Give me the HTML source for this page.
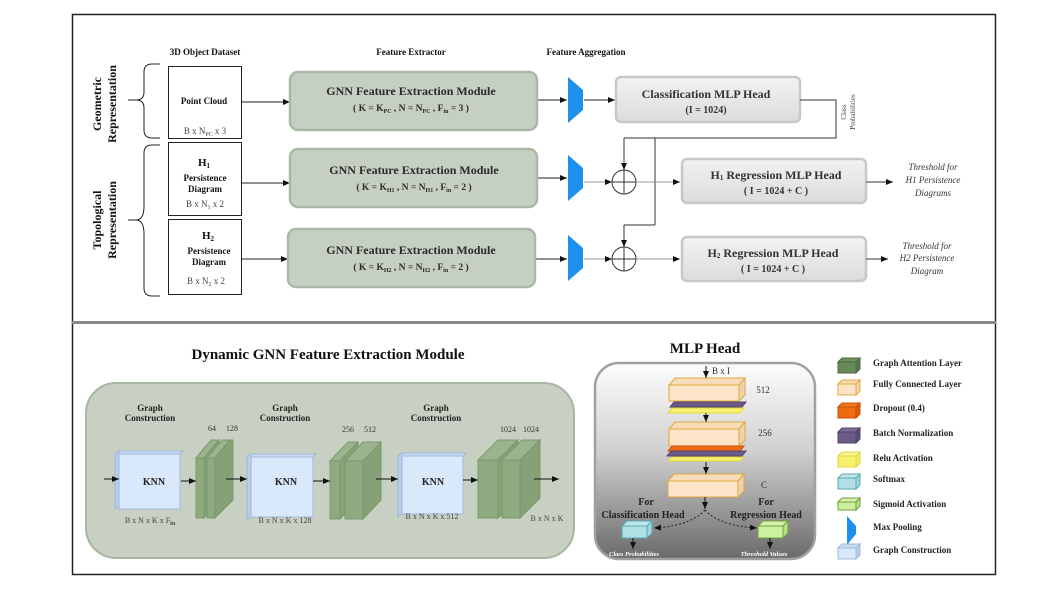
<!DOCTYPE html>
<html><head><meta charset="utf-8"><style>
html,body{margin:0;padding:0;background:#fff;}
svg{display:block;font-family:"Liberation Serif",serif;}
</style></head><body>
<svg width="1046" height="589" viewBox="0 0 1046 589" xmlns="http://www.w3.org/2000/svg">
<defs>
<marker id="ar" markerWidth="8" markerHeight="8" refX="7" refY="4" orient="auto" markerUnits="userSpaceOnUse"><path d="M0,1 L7,4 L0,7 z" fill="#111"/></marker>
<linearGradient id="gbox" x1="0" y1="0" x2="0" y2="1"><stop offset="0" stop-color="#f2f2f2"/><stop offset="1" stop-color="#dcdcdc"/></linearGradient>
<linearGradient id="mlp" x1="0" y1="0" x2="0" y2="1"><stop offset="0" stop-color="#fdfdfd"/><stop offset="0.45" stop-color="#d0d0d0"/><stop offset="1" stop-color="#6a6a6a"/></linearGradient>
</defs>
<!-- frames -->
<rect x="72.5" y="14.5" width="923" height="560" fill="none" stroke="#222" stroke-width="1.5"/>
<rect x="72" y="321" width="924" height="3" fill="#8a8a8a"/>

<!-- headers -->
<g font-weight="bold" font-size="9" text-anchor="middle" fill="#111">
<text x="205" y="55">3D Object Dataset</text>
<text x="411" y="55">Feature Extractor</text>
<text x="586" y="55">Feature Aggregation</text>
</g>
<g font-weight="bold" font-size="12" text-anchor="middle" fill="#111">
<text transform="translate(101,104) rotate(-90)">Geometric</text>
<text transform="translate(116,104) rotate(-90)">Representation</text>
<text transform="translate(101,220) rotate(-90)">Topological</text>
<text transform="translate(116,220) rotate(-90)">Representation</text>
</g>
<!-- braces -->
<g fill="none" stroke="#222" stroke-width="1">
<path d="M160,64 L152,64 Q144,64 144,72 L144,92 Q144,100 136,100 L128,100 M136,100 Q144,100 144,108 L144,130 Q144,138 152,138 L160,138"/>
<path d="M160,145 L152,145 Q144,145 144,153 L144,206 Q144,220 136,220 L128,220 M136,220 Q144,220 144,234 L144,288 Q144,296 152,296 L160,296"/>
</g>
<!-- dataset boxes -->
<g fill="#fff" stroke="#222" stroke-width="1">
<rect x="168.5" y="66.5" width="73" height="72"/>
<rect x="168.5" y="142.5" width="73" height="73"/>
<rect x="168.5" y="219.5" width="73" height="75"/>
</g>
<g font-size="9" text-anchor="middle" fill="#111">
<text x="204" y="104" font-weight="bold">Point Cloud</text>
<text x="205" y="134" fill="#444">B x N<tspan font-size="6" dy="2">PC</tspan><tspan dy="-2"> x 3</tspan></text>
<text x="204" y="166" font-weight="bold" font-size="11">H<tspan font-size="7" dy="2">1</tspan></text>
<text x="205" y="181" font-weight="bold">Persistence</text>
<text x="205" y="192" font-weight="bold">Diagram</text>
<text x="205" y="207" fill="#444">B x N<tspan font-size="6" dy="2">1</tspan><tspan dy="-2"> x 2</tspan></text>
<text x="208" y="239" font-weight="bold" font-size="11">H<tspan font-size="7" dy="2">2</tspan></text>
<text x="209" y="254" font-weight="bold">Persistence</text>
<text x="209" y="265" font-weight="bold">Diagram</text>
<text x="206" y="284" fill="#444">B x N<tspan font-size="6" dy="2">2</tspan><tspan dy="-2"> x 2</tspan></text>
</g>
<g stroke="#222" stroke-width="1" marker-end="url(#ar)">
<line x1="241" y1="102" x2="290" y2="102"/>
<line x1="241" y1="183" x2="290" y2="183"/>
<line x1="241" y1="259" x2="288" y2="259"/>
<line x1="537" y1="100" x2="567" y2="100"/>
<line x1="537" y1="178" x2="567" y2="178"/>
<line x1="535" y1="259" x2="567" y2="259"/>
<line x1="584" y1="100" x2="615" y2="100"/>
</g>
<!-- GNN boxes -->
<g fill="#c5cfc2" stroke="#aab8a6" stroke-width="2.5">
<rect x="290" y="72" width="247" height="58" rx="8"/>
<rect x="290" y="149" width="247" height="58" rx="8"/>
<rect x="288" y="229" width="247" height="58" rx="8"/>
</g>
<g font-weight="bold" text-anchor="middle" fill="#2b2b2b">
<text x="411" y="95" font-size="12">GNN Feature Extraction Module</text>
<text x="411" y="111" font-size="9.5">( K = K<tspan font-size="6" dy="2">PC</tspan><tspan dy="-2"> , N = N</tspan><tspan font-size="6" dy="2">PC</tspan><tspan dy="-2"> ,  F</tspan><tspan font-size="6" dy="2">in</tspan><tspan dy="-2"> = 3 )</tspan></text>
<text x="414" y="174" font-size="12">GNN Feature Extraction Module</text>
<text x="414" y="190" font-size="9.5">( K = K<tspan font-size="6" dy="2">H1</tspan><tspan dy="-2"> , N = N</tspan><tspan font-size="6" dy="2">H1</tspan><tspan dy="-2"> , F</tspan><tspan font-size="6" dy="2">in</tspan><tspan dy="-2"> = 2 )</tspan></text>
<text x="411" y="254" font-size="12">GNN Feature Extraction Module</text>
<text x="411" y="270" font-size="9.5">( K = K<tspan font-size="6" dy="2">H2</tspan><tspan dy="-2"> , N = N</tspan><tspan font-size="6" dy="2">H2</tspan><tspan dy="-2"> , F</tspan><tspan font-size="6" dy="2">in</tspan><tspan dy="-2"> = 2 )</tspan></text>
</g>
<!-- max pools -->
<g fill="#1e90ee">
<polygon points="568,77 583,90 583,110 568,123"/>
<polygon points="568,155 583,168 583,188 568,201"/>
<polygon points="568,235 583,248 583,268 568,281"/>
</g>
<!-- MLP heads -->
<g fill="url(#gbox)" stroke="#c8c8c8" stroke-width="2.5">
<rect x="616" y="77" width="184" height="45" rx="5"/>
<rect x="682" y="159" width="184" height="44" rx="5"/>
<rect x="682" y="237" width="184" height="44" rx="5"/>
</g>
<g font-weight="bold" text-anchor="middle" fill="#333">
<text x="706" y="98" font-size="12">Classification MLP Head</text>
<text x="706" y="113" font-size="10">(I = 1024)</text>
<text x="776" y="179" font-size="12">H<tspan font-size="7" dy="1">1</tspan><tspan dy="-1"> Regression MLP Head</tspan></text>
<text x="776" y="194" font-size="10">( I = 1024 + C )</text>
<text x="773" y="257" font-size="12">H<tspan font-size="7" dy="1">2</tspan><tspan dy="-1"> Regression MLP Head</tspan></text>
<text x="773" y="272" font-size="10">( I = 1024 + C )</text>
</g>
<!-- connectors -->
<g fill="none" stroke="#333" stroke-width="1">
<polyline points="800,100 836,100 836,138 624,138"/>
<line x1="655" y1="138" x2="655" y2="225"/>
<polyline points="655,225 624,225"/>
<circle cx="624" cy="182" r="12"/>
<circle cx="624" cy="259" r="12"/>
<line x1="624" y1="170" x2="624" y2="194"/>
<line x1="624" y1="247" x2="624" y2="271"/>
<line x1="612" y1="182" x2="636" y2="182"/>
<line x1="612" y1="259" x2="636" y2="259"/>
</g>
<g stroke="#333" stroke-width="1" marker-end="url(#ar)">
<line x1="624" y1="138" x2="624" y2="170"/>
<line x1="624" y1="225" x2="624" y2="247"/>
<line x1="584" y1="182" x2="612" y2="182" stroke="#999"/>
<line x1="584" y1="259" x2="612" y2="259" stroke="#999"/>
<line x1="636" y1="182" x2="680" y2="182" stroke="#999"/>
<line x1="636" y1="259" x2="680" y2="259" stroke="#999"/>
<line x1="866" y1="182" x2="893" y2="182"/>
<line x1="866" y1="259" x2="888" y2="259"/>
</g>
<g font-size="7" fill="#444" text-anchor="middle">
<text transform="translate(846,112) rotate(-90)">Class</text>
<text transform="translate(855,112) rotate(-90)">Probabilities</text>
</g>
<g font-size="9" font-style="italic" fill="#333" text-anchor="middle">
<text x="933" y="170">Threshold for</text>
<text x="933" y="183">H1 Persistence</text>
<text x="933" y="196">Diagrams</text>
<text x="927" y="249">Threshold for</text>
<text x="927" y="261">H2 Persistence</text>
<text x="927" y="274">Diagram</text>
</g>

<!-- Bottom left -->
<text x="328" y="359" font-size="15" font-weight="bold" text-anchor="middle" fill="#111">Dynamic GNN Feature Extraction Module</text>
<rect x="86" y="383" width="488" height="175" rx="30" fill="#c8d0c4" stroke="#a9b6a4" stroke-width="2"/>
<g font-size="9" font-weight="bold" text-anchor="middle" fill="#222">
<text x="150" y="411">Graph</text><text x="150" y="421">Construction</text>
<text x="285" y="411">Graph</text><text x="285" y="421">Construction</text>
<text x="436" y="411">Graph</text><text x="436" y="421">Construction</text>
</g>
<!-- KNN boxes -->
<g stroke="#9fb8dd" stroke-width="1">
<polygon points="115,454 119,451 183,451 180,454" fill="#c9daf2"/>
<polygon points="115,454 119,451 119,506 115,509" fill="#b9cdec"/>
<rect x="119" y="454" width="61" height="55" fill="#dae8fc"/>
<polygon points="247,457 251,454 316,454 313,457" fill="#c9daf2"/>
<polygon points="247,457 251,454 251,517 247,520" fill="#b9cdec"/>
<rect x="251" y="457" width="62" height="60" fill="#dae8fc"/>
<polygon points="398,456 402,453 466,453 463,456" fill="#c9daf2"/>
<polygon points="398,456 402,453 402,514 398,517" fill="#b9cdec"/>
<rect x="402" y="456" width="61" height="58" fill="#dae8fc"/>
</g>
<g font-size="10" font-weight="bold" text-anchor="middle" fill="#222">
<text x="154" y="485">KNN</text><text x="286" y="485">KNN</text><text x="433" y="485">KNN</text>
</g>
<!-- green slabs -->
<g stroke="#7a9a6a" stroke-width="1">
<polygon points="196,458 211,440 219,440 204,458" fill="#9cb38f"/>
<polygon points="204,458 219,440 219,500 204,518" fill="#86a077"/>
<rect x="196" y="458" width="8" height="60" fill="#8faa80"/>
<polygon points="207,458 222,440 230,440 215,458" fill="#9cb38f"/>
<polygon points="215,458 230,440 233,440 233,500 215,518" fill="#86a077"/>
<rect x="207" y="458" width="8" height="60" fill="#8faa80"/>

<polygon points="330,461 348,442 358,442 340,461" fill="#9cb38f"/>
<polygon points="340,461 358,442 358,500 340,519" fill="#86a077"/>
<rect x="330" y="461" width="10" height="58" fill="#8faa80"/>
<polygon points="345,461 363,442 381,442 363,461" fill="#9cb38f"/>
<polygon points="363,461 381,442 381,500 363,519" fill="#86a077"/>
<rect x="345" y="461" width="18" height="58" fill="#8faa80"/>

<polygon points="478,460 498,440 518,440 498,460" fill="#9cb38f"/>
<polygon points="498,460 518,440 518,498 498,518" fill="#86a077"/>
<rect x="478" y="460" width="20" height="58" fill="#8faa80"/>
<polygon points="502,460 522,440 540,440 520,460" fill="#9cb38f"/>
<polygon points="520,460 540,440 540,498 520,518" fill="#86a077"/>
<rect x="502" y="460" width="18" height="58" fill="#8faa80"/>
</g>
<g font-size="8" fill="#333" text-anchor="middle">
<text x="212" y="431">64</text><text x="232" y="431">128</text>
<text x="348" y="432">256</text><text x="370" y="432">512</text>
<text x="508" y="432">1024</text><text x="531" y="432">1024</text>
</g>
<g font-size="8" fill="#444" text-anchor="middle">
<text x="150" y="523">B x N x K x F<tspan font-size="6" dy="2" font-weight="bold">in</tspan></text>
<text x="285" y="523">B x N x K x 128</text>
<text x="432" y="519">B x N x K x 512</text>
<text x="547" y="521">B x N x K</text>
</g>
<g stroke="#111" stroke-width="1" marker-end="url(#ar)">
<line x1="104" y1="479" x2="119" y2="479"/>
<line x1="181" y1="481" x2="196" y2="481"/>
<line x1="226" y1="479" x2="247" y2="479"/>
<line x1="313" y1="481" x2="330" y2="481"/>
<line x1="376" y1="479" x2="398" y2="479"/>
<line x1="463" y1="480" x2="478" y2="480"/>
<line x1="534" y1="479" x2="559" y2="479"/>
</g>

<!-- MLP Head -->
<text x="705" y="353" font-size="15" font-weight="bold" text-anchor="middle" fill="#111">MLP Head</text>
<rect x="595" y="363" width="220" height="196" rx="24" fill="url(#mlp)" stroke="#a0a0a0" stroke-width="2.5"/>
<g stroke-width="1">
<!-- FC1 -->
<polygon points="669,385 675,378 745,378 739,385" fill="#f8dcb8" stroke="#e0a840"/>
<polygon points="739,385 745,378 745,395 739,401" fill="#eed2b0" stroke="#e0a840"/>
<rect x="669" y="385" width="70" height="16" fill="#fde3c8" stroke="#e0a840"/>
<polygon points="670,407 674,402 746,402 742,407" fill="#6a5a85" stroke="#54466e"/>
<polygon points="668,413 672,408 744,408 740,413" fill="#f7f170" stroke="#e0d840"/>
<!-- FC2 -->
<polygon points="669,429 675,422 745,422 739,429" fill="#f8dcb8" stroke="#e0a840"/>
<polygon points="739,429 745,422 745,440 739,446" fill="#eed2b0" stroke="#e0a840"/>
<rect x="669" y="429" width="70" height="17" fill="#fde3c8" stroke="#e0a840"/>
<polygon points="668,451 672,446 744,446 740,451" fill="#f06a10" stroke="#c85008"/>
<polygon points="667,456 671,451 746,451 742,456" fill="#6a5a85" stroke="#54466e"/>
<polygon points="668,461 672,457 744,457 740,461" fill="#f7f170" stroke="#e0d840"/>
<!-- FC3 -->
<polygon points="668,481 674,474 744,474 738,481" fill="#f8dcb8" stroke="#e0a840"/>
<polygon points="738,481 744,474 744,491 738,497" fill="#eed2b0" stroke="#e0a840"/>
<rect x="668" y="481" width="70" height="16" fill="#fde3c8" stroke="#e0a840"/>
<!-- softmax -->
<polygon points="622,526 627,521 652,521 647,526" fill="#bfe6ea" stroke="#5aa8b0"/>
<polygon points="647,526 652,521 652,533 647,538" fill="#9fd4da" stroke="#5aa8b0"/>
<rect x="622" y="526" width="25" height="12" fill="#b0e0e6" stroke="#5aa8b0"/>
<!-- sigmoid -->
<polygon points="758,526 763,521 788,521 783,526" fill="#d6f0a8" stroke="#70a040"/>
<polygon points="783,526 788,521 788,533 783,538" fill="#b8e080" stroke="#70a040"/>
<rect x="758" y="526" width="25" height="12" fill="#cdf0a0" stroke="#70a040"/>
</g>
<g stroke="#111" stroke-width="1" marker-end="url(#ar)">
<line x1="706" y1="366" x2="706" y2="378"/>
<line x1="706" y1="413" x2="706" y2="422"/>
<line x1="706" y1="462" x2="706" y2="474"/>
<line x1="705" y1="497" x2="705" y2="509"/>
<line x1="633" y1="538" x2="633" y2="549"/>
<line x1="770" y1="538" x2="770" y2="549"/>
</g>
<g stroke="#222" stroke-width="1" fill="none" stroke-dasharray="2,2">
<path d="M705,510 Q690,526 654,528" marker-end="url(#ar)"/>
<path d="M705,510 Q720,526 757,528" marker-end="url(#ar)"/>
</g>
<g font-size="9" fill="#333" text-anchor="middle">
<text x="721" y="374">B x I</text>
<text x="763" y="393">512</text>
<text x="765" y="436">256</text>
<text x="764" y="488">C</text>
</g>
<g font-size="10" font-weight="bold" fill="#222" text-anchor="middle">
<text x="646" y="505">For</text><text x="643" y="518">Classification Head</text>
<text x="766" y="505">For</text><text x="766" y="518">Regression Head</text>
</g>
<g font-size="6.5" font-weight="bold" font-style="italic" fill="#fff" text-anchor="middle">
<text x="634" y="556">Class Probabilities</text>
<text x="764" y="556">Threshold Values</text>
</g>

<!-- Legend -->
<g stroke-width="1">
<g transform="translate(838,358)"><polygon points="0,4 4,0 22,0 18,4" fill="#6f8f62" stroke="#4a6a40"/><polygon points="18,4 22,0 22,11 18,15" fill="#587850" stroke="#4a6a40"/><rect x="0" y="4" width="18" height="11" fill="#668a58" stroke="#4a6a40"/></g>
<g transform="translate(838,380)"><polygon points="0,4 4,0 22,0 18,4" fill="#f8dcb8" stroke="#e0a840"/><polygon points="18,4 22,0 22,11 18,15" fill="#eed2b0" stroke="#e0a840"/><rect x="0" y="4" width="18" height="11" fill="#fde3c8" stroke="#e0a840"/></g>
<g transform="translate(838,403)"><polygon points="0,4 4,0 22,0 18,4" fill="#f07820" stroke="#c85008"/><polygon points="18,4 22,0 22,11 18,15" fill="#d85a08" stroke="#c85008"/><rect x="0" y="4" width="18" height="11" fill="#f06a10" stroke="#c85008"/></g>
<g transform="translate(838,428)"><polygon points="0,4 4,0 22,0 18,4" fill="#7a6a95" stroke="#54466e"/><polygon points="18,4 22,0 22,11 18,15" fill="#5a4a75" stroke="#54466e"/><rect x="0" y="4" width="18" height="11" fill="#6a5a85" stroke="#54466e"/></g>
<g transform="translate(838,452)"><polygon points="0,4 4,0 22,0 18,4" fill="#fbf590" stroke="#e0d840"/><polygon points="18,4 22,0 22,11 18,15" fill="#f0ea60" stroke="#e0d840"/><rect x="0" y="4" width="18" height="11" fill="#f7f170" stroke="#e0d840"/></g>
<g transform="translate(838,474)"><polygon points="0,4 4,0 22,0 18,4" fill="#bfe6ea" stroke="#5aa8b0"/><polygon points="18,4 22,0 22,11 18,15" fill="#9fd4da" stroke="#5aa8b0"/><rect x="0" y="4" width="18" height="11" fill="#b0e0e6" stroke="#5aa8b0"/></g>
<g transform="translate(838,498)"><polygon points="0,4 4,0 22,0 18,4" fill="#d6f0a8" stroke="#70a040"/><polygon points="18,4 22,0 22,8 18,12" fill="#b8e080" stroke="#70a040"/><rect x="0" y="4" width="18" height="8" fill="#cdf0a0" stroke="#70a040"/></g>
<polygon points="847,516 856,526 856,534 847,545" fill="#1e90ee"/>
<g transform="translate(838,544)"><polygon points="0,4 4,0 22,0 18,4" fill="#c9daf2" stroke="#9fb8dd"/><polygon points="18,4 22,0 22,11 18,15" fill="#b9cdec" stroke="#9fb8dd"/><rect x="0" y="4" width="18" height="11" fill="#dae8fc" stroke="#9fb8dd"/></g>
</g>
<g font-size="9" font-weight="bold" fill="#222">
<text x="873" y="366">Graph Attention Layer</text>
<text x="873" y="387">Fully Connected Layer</text>
<text x="873" y="411">Dropout (0.4)</text>
<text x="873" y="436">Batch Normalization</text>
<text x="873" y="461">Relu Activation</text>
<text x="873" y="482">Softmax</text>
<text x="873" y="507">Sigmoid Activation</text>
<text x="873" y="530">Max Pooling</text>
<text x="873" y="553">Graph Construction</text>
</g>
</svg>
</body></html>
